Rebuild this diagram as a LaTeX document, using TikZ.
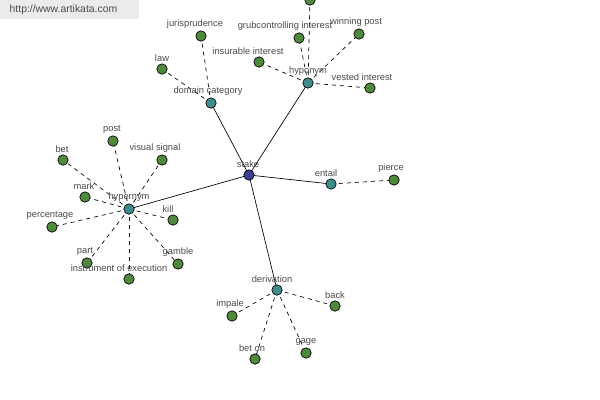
\documentclass[tikz,border=0pt]{standalone}
\usepackage{fontspec}
\setmainfont{Liberation Sans}
\usetikzlibrary{positioning, backgrounds}
\definecolor{leafgreen}{HTML}{4F8A3C}
\definecolor{hubteal}{HTML}{3F8C8F}
\definecolor{rootblue}{HTML}{3B3F96}
\definecolor{labelgray}{HTML}{4A4A4A}
\definecolor{markgray}{HTML}{EBEBEB}
\tikzset{
	wordnode/.style={
			circle,
			draw=black,
			line width=0.5pt,
			minimum size=7.8pt,
			inner sep=0pt
		},
	leafnode/.style={
			wordnode,
			fill=leafgreen
		},
	hubnode/.style={
			wordnode,
			fill=hubteal
		},
	rootnode/.style={
			wordnode,
			fill=rootblue
		},
	lbl/.style={
			font=\fontsize{7}{8}\selectfont,
			text=labelgray,
			inner sep=0.5pt
		},
	nudge/.style={
			xshift=#1*0.75pt
		},
	solidlink/.style={
			line width=0.5pt
		},
	dashlink/.style={
			line width=0.5pt,
			dash pattern=on 3pt off 3pt
		}
}

\begin{document}
\begin{tikzpicture}[x=0.75pt, y=-0.75pt, label distance=1pt]
\useasboundingbox (0,0) rectangle (600,400);
\fill[markgray] (0,0) rectangle (139,19);
\node[anchor=west, text=labelgray, font=\fontsize{7.8}{9}\selectfont] (site) at (5,10) {http://www.artikata.com};

% root and hubs
\node[rootnode, label={[lbl, nudge=-1]above:stake}] (stake) at (249,175) {};
\node[hubnode, label={[lbl, nudge=-3]above:domain category}] (domcat) at (211,103) {};
\node[hubnode, label={[lbl]above:hyponym}] (hypo) at (308,83) {};
\node[hubnode, label={[lbl, nudge=-5]above:entail}] (entail) at (331,184) {};
\node[hubnode, label={[lbl, nudge=-5]above:derivation}] (deriv) at (277,290) {};
\node[hubnode, label={[lbl]above:hypernym}] (hyper) at (129,209) {};

% domain category leaves
\node[leafnode, label={[lbl, nudge=-6]above:jurisprudence}] (juris) at (201,36) {};
\node[leafnode, label={[lbl]above:law}] (law) at (162,69) {};

% hyponym leaves
\node[leafnode] (topleaf) at (310,0) {};
\node[leafnode, label={[lbl, nudge=-14]above:grubcontrolling interest}] (grub) at (299,38) {};
\node[leafnode, label={[lbl, nudge=-3]above:winning post}] (winpost) at (359,34) {};
\node[leafnode, label={[lbl, nudge=-11]above:insurable interest}] (insur) at (259,62) {};
\node[leafnode, label={[lbl, nudge=-8]above:vested interest}] (vested) at (370,88) {};

% entail leaf
\node[leafnode, label={[lbl, nudge=-3]above:pierce}] (pierce) at (394,180) {};

% derivation leaves
\node[leafnode, label={[lbl, nudge=-2]above:impale}] (impale) at (232,316) {};
\node[leafnode, label={[lbl]above:back}] (back) at (335,306) {};
\node[leafnode, label={[lbl, nudge=-3]above:bet on}] (beton) at (255,359) {};
\node[leafnode, label={[lbl]above:gage}] (gage) at (306,353) {};

% hypernym leaves
\node[leafnode, label={[lbl, nudge=-1]above:post}] (post) at (113,141) {};
\node[leafnode, label={[lbl, nudge=-1]above:bet}] (bet) at (63,160) {};
\node[leafnode, label={[lbl, nudge=-7]above:visual signal}] (visual) at (162,160) {};
\node[leafnode, label={[lbl, nudge=-1]above:mark}] (mark) at (85,197) {};
\node[leafnode, label={[lbl, nudge=-2]above:percentage}] (percent) at (52,227) {};
\node[leafnode, label={[lbl, nudge=-5]above:kill}] (kill) at (173,220) {};
\node[leafnode, label={[lbl, nudge=-2]above:part}] (part) at (87,263) {};
\node[leafnode, label={[lbl, nudge=-10]above:instrument of execution}] (instr) at (129,279) {};
\node[leafnode, label={[lbl]above:gamble}] (gamble) at (178,264) {};

\begin{scope}[on background layer]
\foreach \h in {domcat, hypo, entail, deriv, hyper}
  \draw[solidlink] (stake.center) -- (\h.center);
\foreach \l in {juris, law}
  \draw[dashlink] (domcat.center) -- (\l.center);
\foreach \l in {topleaf, grub, winpost, insur, vested}
  \draw[dashlink] (hypo.center) -- (\l.center);
\draw[dashlink] (entail.center) -- (pierce.center);
\foreach \l in {impale, back, beton, gage}
  \draw[dashlink] (deriv.center) -- (\l.center);
\foreach \l in {post, bet, visual, mark, percent, kill, part, instr, gamble}
  \draw[dashlink] (hyper.center) -- (\l.center);
\end{scope}
\end{tikzpicture}
\end{document}
